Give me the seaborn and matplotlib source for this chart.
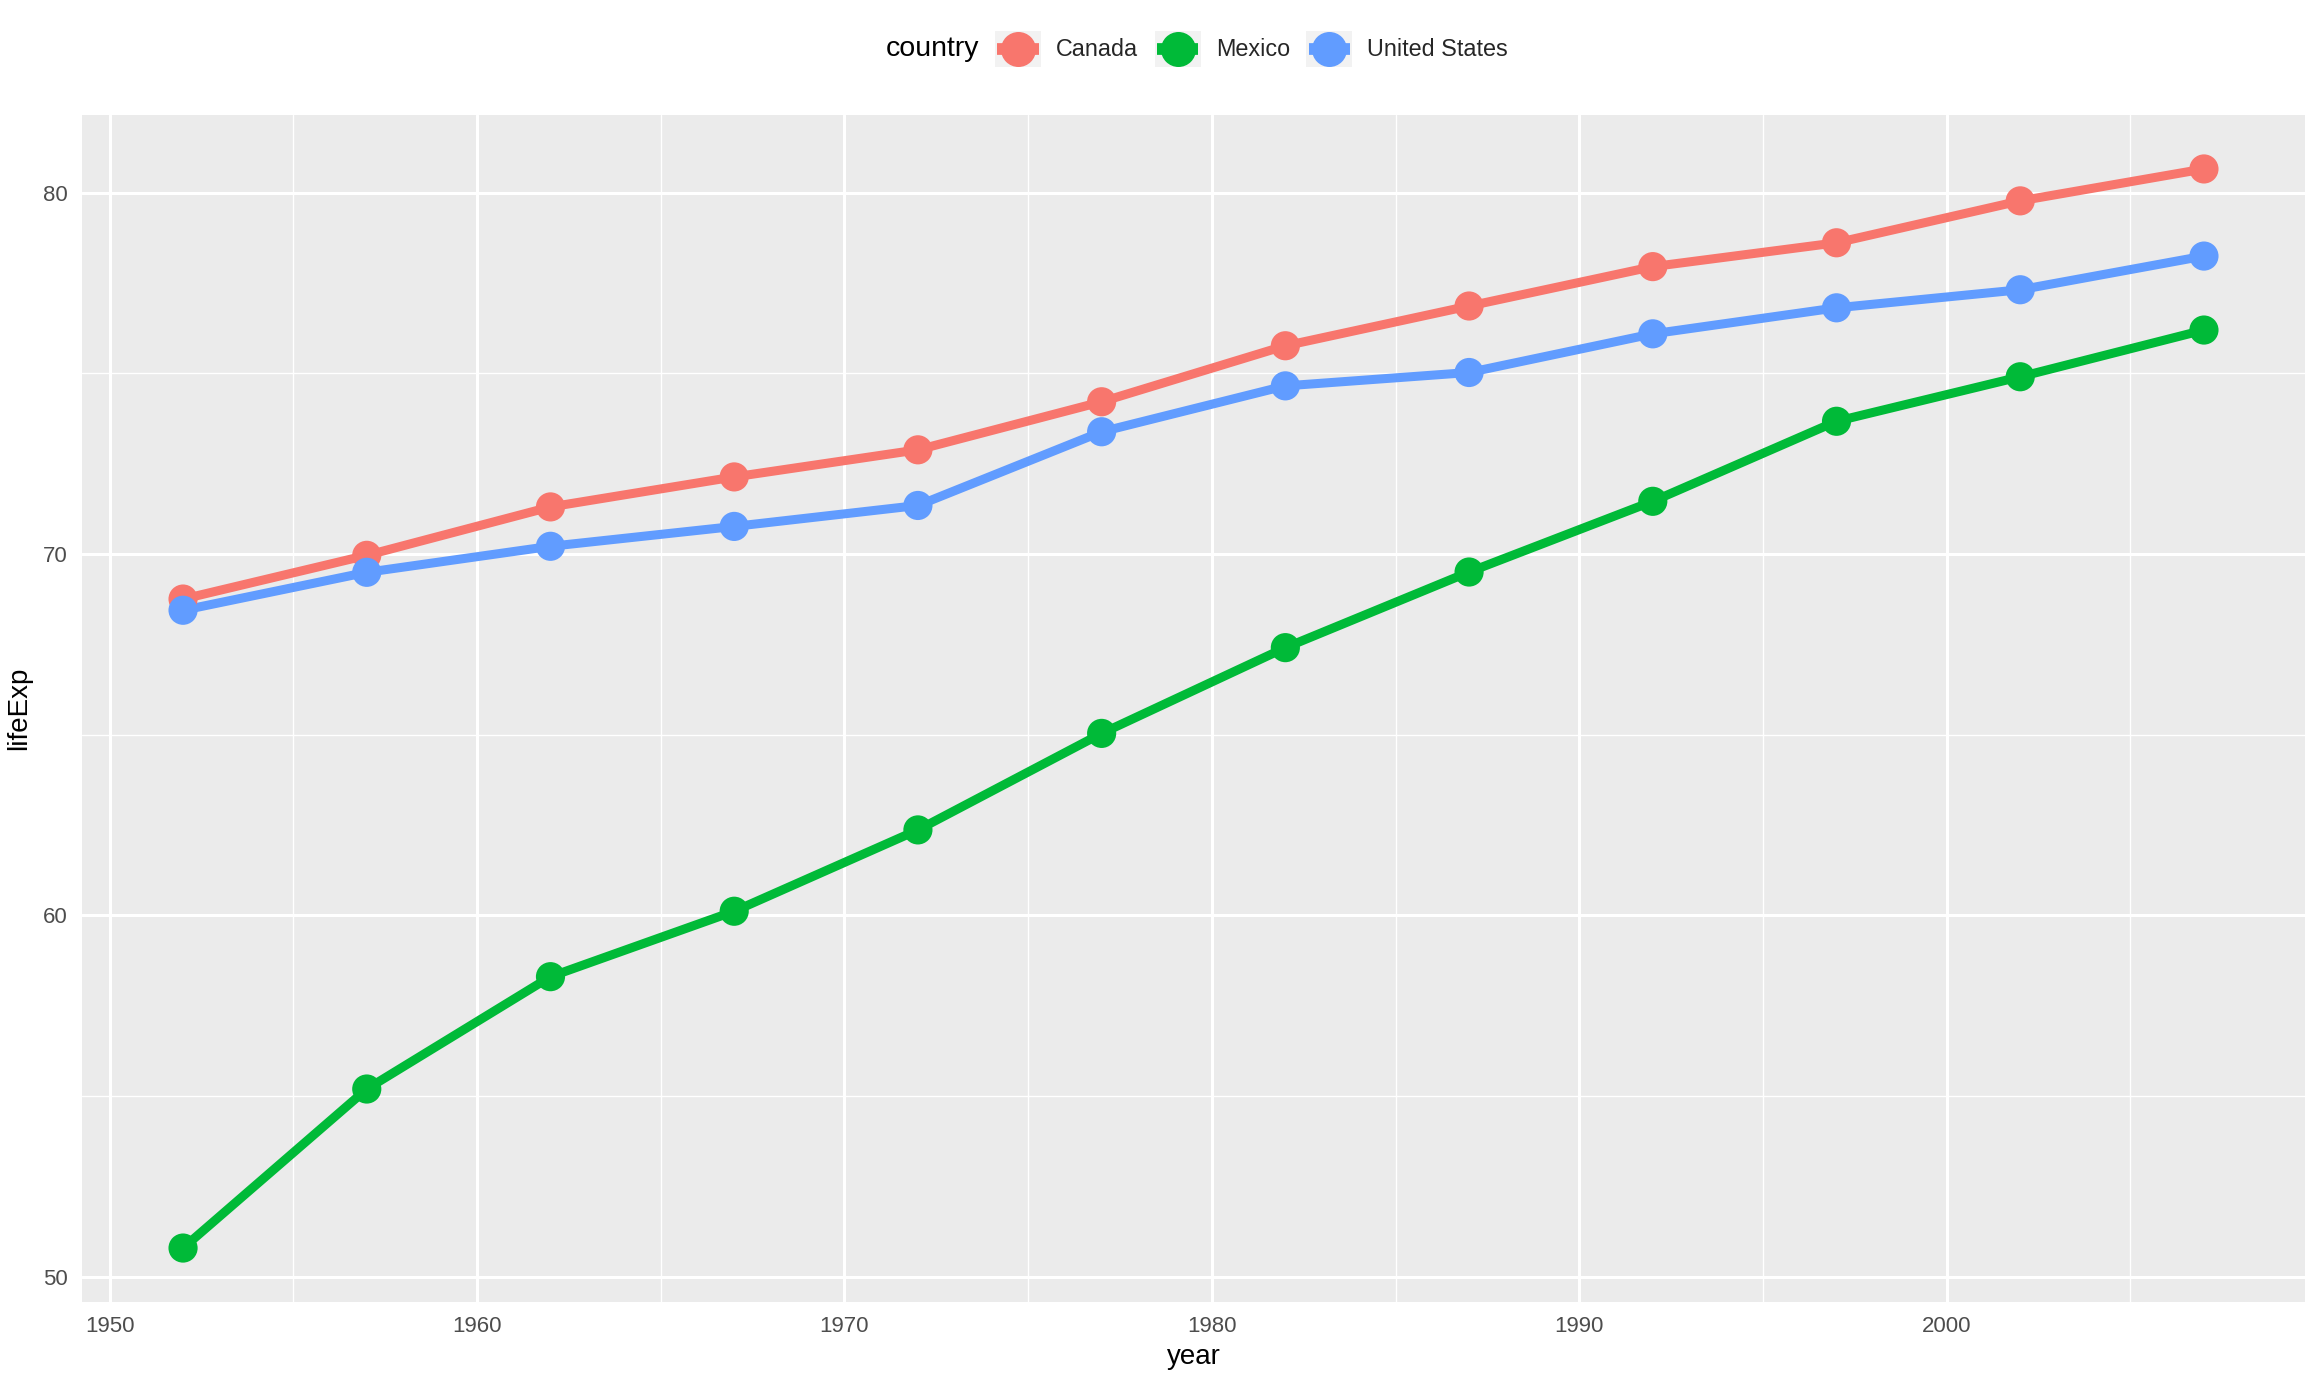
import numpy as np
import pandas as pd
import matplotlib
matplotlib.use("Agg")
import matplotlib.pyplot as plt
import seaborn as sns
from matplotlib.legend_handler import HandlerBase
from matplotlib.patches import Rectangle
from matplotlib.lines import Line2D
from matplotlib.ticker import MultipleLocator

years = [1952, 1957, 1962, 1967, 1972, 1977, 1982, 1987, 1992, 1997, 2002, 2007]
canada = [68.75, 69.96, 71.30, 72.13, 72.88, 74.21, 75.76, 76.86, 77.95, 78.61, 79.77, 80.653]
mexico = [50.789, 55.19, 58.299, 60.11, 62.361, 65.032, 67.405, 69.498, 71.455, 73.67, 74.902, 76.195]
usa = [68.44, 69.49, 70.21, 70.76, 71.34, 73.38, 74.65, 75.02, 76.09, 76.81, 77.31, 78.242]
countries = ["Canada", "Mexico", "United States"]
colors = ["#F8766D", "#00BA38", "#619CFF"]

df = pd.DataFrame({
    "year": years * 3,
    "lifeExp": canada + mexico + usa,
    "country": sum([[c] * len(years) for c in countries], []),
})
palette = dict(zip(countries, colors))

sns.set_theme(style="white")
plt.rcParams["font.family"] = ["Liberation Sans", "DejaVu Sans"]

W, H = 2312, 1378
fig = plt.figure(figsize=(W / 100, H / 100), dpi=100)
ax = fig.add_axes([82 / W, 1 - 1302 / H, (2305 - 82) / W, (1302 - 115) / H])
ax.set_facecolor("#EBEBEB")

LW = 6.5
MS = 21
sns.lineplot(data=df, x="year", y="lifeExp", hue="country", palette=palette,
             linewidth=LW, legend=False, ax=ax, zorder=3)
sns.scatterplot(data=df, x="year", y="lifeExp", hue="country", palette=palette,
                s=MS ** 2, linewidth=0, legend=False, ax=ax, zorder=4)

xr = max(years) - min(years)
ax.set_xlim(min(years) - 0.05 * xr, max(years) + 0.05 * xr)
allv = canada + mexico + usa
yr = max(allv) - min(allv)
ax.set_ylim(min(allv) - 0.05 * yr, max(allv) + 0.05 * yr)

ax.xaxis.set_major_locator(MultipleLocator(10))
ax.xaxis.set_minor_locator(MultipleLocator(5))
ax.yaxis.set_major_locator(MultipleLocator(10))
ax.yaxis.set_minor_locator(MultipleLocator(5))
ax.grid(which="major", color="white", linewidth=2.2, zorder=0)
ax.grid(which="minor", color="white", linewidth=1.0, zorder=0)
ax.set_axisbelow(True)
for s in ax.spines.values():
    s.set_visible(False)
ax.tick_params(which="major", length=5, width=1.5, color="#333333",
               labelsize=16, labelcolor="#4D4D4D", pad=5)
ax.tick_params(which="minor", length=0)
ax.set_xlabel("year", fontsize=20, color="black", labelpad=5)
ax.set_ylabel("lifeExp", fontsize=20, color="black", labelpad=8)


class KeyHandler(HandlerBase):
    def create_artists(self, legend, orig_handle, xdescent, ydescent, width, height, fontsize, trans):
        c = orig_handle.get_color()
        x0, y0 = -xdescent, -ydescent
        rect = Rectangle((x0, y0), width, height, facecolor="#F2F2F2", edgecolor="none", transform=trans)
        line = Line2D([x0 + 0.05 * width, x0 + 0.95 * width], [y0 + height / 2] * 2, color=c,
                      linewidth=LW * 1.3, solid_capstyle="butt", transform=trans)
        mk = Line2D([x0 + width / 2], [y0 + height / 2], marker="o", markersize=MS * 1.2,
                    markeredgewidth=0, color=c, linestyle="none", transform=trans)
        return [rect, line, mk]


handles = [Line2D([], [], color=c) for c in colors]
fs = 16.8
leg = fig.legend(handles, countries, loc="center left",
                 bbox_to_anchor=(995 / W, 1 - 49 / H), ncol=3, frameon=False,
                 fontsize=fs, handler_map={Line2D: KeyHandler()},
                 handlelength=46 / (fs * 100 / 72), handleheight=46 / (fs * 100 / 72),
                 handletextpad=0.65, columnspacing=0.7, borderpad=0, borderaxespad=0)
fig.text(979 / W, 1 - 49 / H, "country", ha="right", va="center", fontsize=20.5, color="black")

fig.savefig("out.png", dpi=100, facecolor="white")
